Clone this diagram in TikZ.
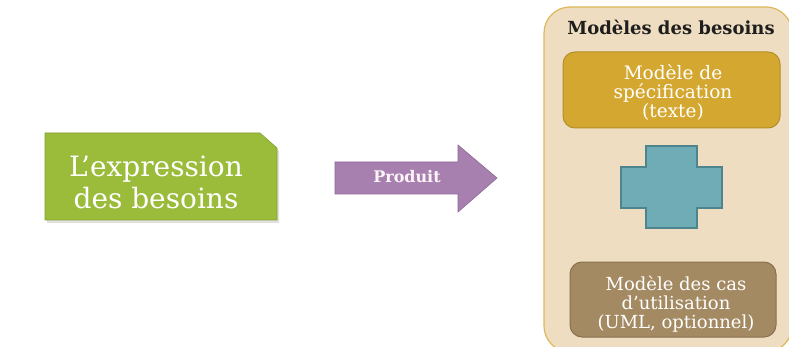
\documentclass[tikz,border=0pt]{standalone}
\usepackage{fontspec}
\setmainfont{DejaVu Serif}
\definecolor{expgreen}{RGB}{155,187,59}
\definecolor{expgreenB}{RGB}{130,160,45}
\definecolor{arrowpurple}{RGB}{168,128,176}
\definecolor{arrowpurpleB}{RGB}{140,104,150}
\definecolor{panelfill}{RGB}{238,221,192}
\definecolor{panelborder}{RGB}{222,184,90}
\definecolor{specfill}{RGB}{212,168,48}
\definecolor{specborder}{RGB}{180,142,38}
\definecolor{crossfill}{RGB}{111,172,181}
\definecolor{crossborder}{RGB}{78,132,142}
\definecolor{casfill}{RGB}{164,138,99}
\definecolor{casborder}{RGB}{135,112,78}
\definecolor{titletext}{RGB}{30,30,30}
\tikzset{
  px/.style={x=1pt,y=-1pt},
  modelbox/.style={rounded corners=12pt, line width=1pt},
  boxtext/.style={text=white, align=center, inner sep=0pt},
}
\begin{document}
\begin{tikzpicture}[px]
\useasboundingbox (0,0) rectangle (789,347);
\fill[white] (0,0) rectangle (789,347);

% Left block with clipped top-right corner
\fill[gray!40, opacity=0.6] (47,136) -- (262,136) -- (279,151) -- (279,223) -- (47,223) -- cycle;
\draw[fill=expgreen, draw=expgreenB, line width=0.6pt]
  (45,133) -- (260,133) -- (277,148) -- (277,220) -- (45,220) -- cycle;
\node[boxtext, font=\fontsize{28}{31.5}\selectfont] (expr) at (156,182.5)
  {L’expression\\des besoins};

% Block arrow
\draw[fill=arrowpurple, draw=arrowpurpleB, line width=0.6pt]
  (335,162) -- (458,162) -- (458,145) -- (497,178) -- (458,212) -- (458,194) -- (335,194) -- cycle;
\node[boxtext, anchor=base, font=\fontsize{16}{18}\selectfont\bfseries, text=white!96!purple] (prod) at (407,183) {Produit};

% Right panel
\draw[fill=panelfill, draw=panelborder, line width=1.2pt, rounded corners=26pt]
  (544,7) rectangle (792,352);
\node[text=titletext, anchor=base, inner sep=0pt, font=\fontsize{18}{20}\selectfont\bfseries] (title) at (671,35) {Modèles des besoins};

% Specification model
\draw[modelbox, fill=specfill, draw=specborder] (563,52) rectangle (780,128);
\node[boxtext, font=\fontsize{18.5}{19}\selectfont] (spec) at (673,93)
  {Modèle de\\spécification\\(texte)};

% Plus sign
\draw[fill=crossfill, draw=crossborder, line width=1.2pt]
  (646,146) -- (697,146) -- (697,167) -- (722,167) -- (722,208) -- (697,208)
  -- (697,228) -- (646,228) -- (646,208) -- (621,208) -- (621,167) -- (646,167) -- cycle;

% Use case model
\draw[modelbox, fill=casfill, draw=casborder] (570,262) rectangle (776,337);
\node[boxtext, font=\fontsize{18}{19}\selectfont] (cas) at (676,304)
  {Modèle des cas\\d’utilisation\\(UML, optionnel)};
\end{tikzpicture}
\end{document}
